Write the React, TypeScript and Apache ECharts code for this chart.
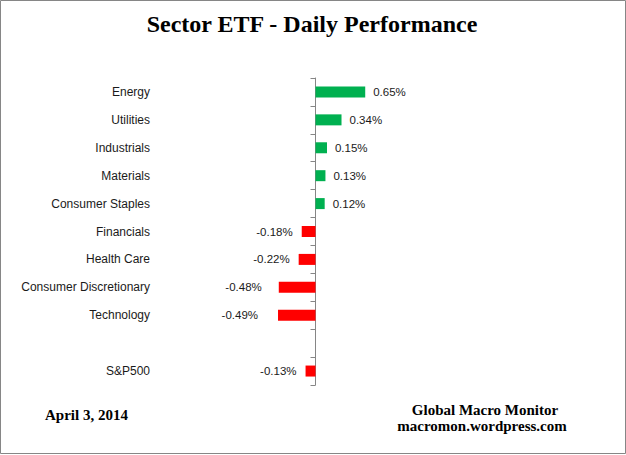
import React, { useEffect, useRef } from "react";
import * as echarts from "echarts";

const categories = [
  "Energy",
  "Utilities",
  "Industrials",
  "Materials",
  "Consumer Staples",
  "Financials",
  "Health Care",
  "Consumer Discretionary",
  "Technology",
  "",
  "S&P500",
];
const values: (number | null)[] = [0.65, 0.34, 0.15, 0.13, 0.12, -0.18, -0.22, -0.48, -0.49, null, -0.13];
const title = "Sector ETF - Daily Performance";
const dateText = "April 3, 2014";
const sourceLines = ["Global Macro Monitor", "macromon.wordpress.com"];

const fmt = (p: any) => (p.value == null ? "" : Number(p.value).toFixed(2) + "%");
const labelFont = "'Liberation Sans', Arial, sans-serif";
const serif = "'Liberation Serif', 'Times New Roman', serif";

// label gap tweaks for the two widest negative bars (style only)
const negLabelGap = (i: number) => (i === 7 ? 17 : i === 8 ? 20 : 9);

const positives = values.map((v) => (v !== null && v >= 0 ? v : null));
const negatives = values.map((v, i) =>
  v !== null && v < 0 ? { value: v, label: { distance: negLabelGap(i) } } : null
);

export default function App() {
  const ref = useRef<HTMLDivElement>(null);
  useEffect(() => {
    if (!ref.current) return;
    const chart = echarts.init(ref.current, null, { renderer: "svg" });
    chart.setOption({
      animation: false,
      backgroundColor: "#ffffff",
      grid: { left: 239, width: 153, top: 78, height: 307 },
      xAxis: {
        type: "value",
        min: -1,
        max: 1,
        show: false,
      },
      yAxis: [
        {
          type: "category",
          data: categories,
          inverse: true,
          axisLine: { show: false, onZero: false },
          axisTick: { show: false },
          axisLabel: {
            margin: 89,
            color: "#1a1a1a",
            fontSize: 12,
            fontFamily: labelFont,
          },
        },
        {
          type: "category",
          data: categories,
          inverse: true,
          position: "left",
          axisLine: {
            show: true,
            onZero: true,
            onZeroAxisIndex: 0,
            lineStyle: { color: "#868686", width: 1 },
          },
          axisTick: { show: true, length: 5, lineStyle: { color: "#868686" } },
          axisLabel: { show: false },
        },
      ],
      series: [
        {
          type: "bar",
          data: positives,
          yAxisIndex: 0,
          barWidth: 11,
          barGap: "-100%",
          itemStyle: { color: "#00B050" },
          label: {
            show: true,
            position: "right",
            distance: 8,
            formatter: fmt,
            color: "#1a1a1a",
            fontSize: 11.5,
            fontFamily: labelFont,
          },
        },
        {
          type: "bar",
          data: negatives,
          yAxisIndex: 0,
          barWidth: 11,
          barGap: "-100%",
          itemStyle: { color: "#FF0000" },
          label: {
            show: true,
            position: "left",
            distance: 9,
            formatter: fmt,
            color: "#1a1a1a",
            fontSize: 11.5,
            fontFamily: labelFont,
          },
        },
      ],
      graphic: [
        {
          type: "rect",
          shape: { x: 0.5, y: 0.5, width: 625, height: 453 },
          style: { fill: "none", stroke: "#868686", lineWidth: 1 },
          silent: true,
        },
        {
          type: "text",
          x: 312,
          y: 24,
          style: {
            text: title,
            fill: "#000",
            font: `bold 24px ${serif}`,
            textAlign: "center",
            textVerticalAlign: "middle",
          },
        },
        {
          type: "text",
          x: 45,
          y: 415,
          style: {
            text: dateText,
            fill: "#000",
            font: `bold 15px ${serif}`,
            textAlign: "left",
            textVerticalAlign: "middle",
          },
        },
        {
          type: "text",
          x: 485,
          y: 410,
          style: {
            text: sourceLines[0],
            fill: "#000",
            font: `bold 15px ${serif}`,
            textAlign: "center",
            textVerticalAlign: "middle",
          },
        },
        {
          type: "text",
          x: 482,
          y: 426,
          style: {
            text: sourceLines[1],
            fill: "#000",
            font: `bold 15px ${serif}`,
            textAlign: "center",
            textVerticalAlign: "middle",
          },
        },
      ],
    });
    return () => chart.dispose();
  }, []);
  return (
    <div
      ref={ref}
      style={{ position: "absolute", left: 0, top: 0, width: 626, height: 455 }}
    />
  );
}
